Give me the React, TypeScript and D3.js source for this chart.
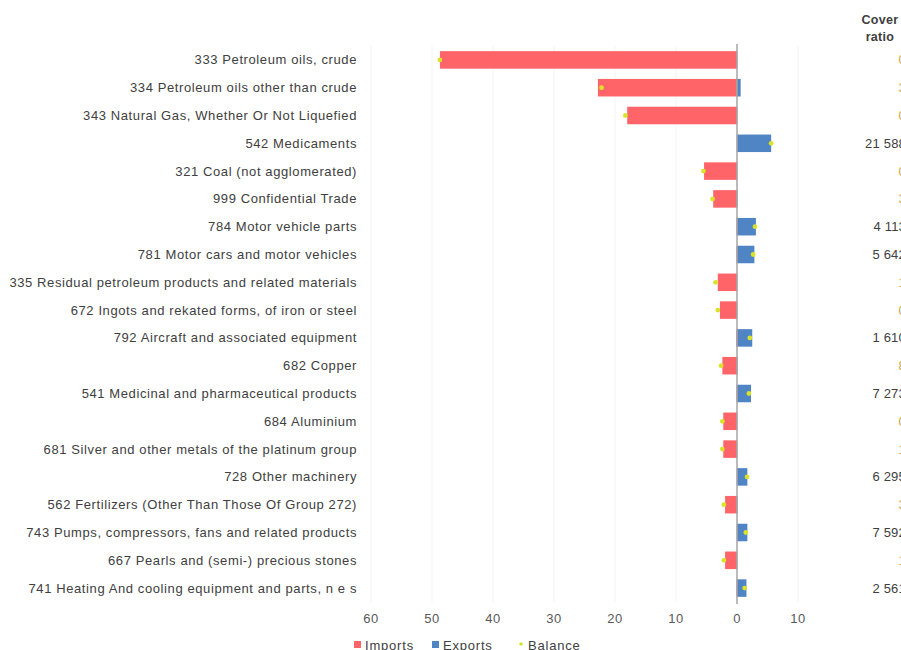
import React from 'react';
import * as d3 from 'd3';

const categories = [
  '333 Petroleum oils, crude',
  '334 Petroleum oils other than crude',
  '343 Natural Gas, Whether Or Not Liquefied',
  '542 Medicaments',
  '321 Coal (not agglomerated)',
  '999 Confidential Trade',
  '784 Motor vehicle parts',
  '781 Motor cars and motor vehicles',
  '335 Residual petroleum products and related materials',
  '672 Ingots and rekated forms, of iron or steel',
  '792 Aircraft and associated equipment',
  '682 Copper',
  '541 Medicinal and pharmaceutical products',
  '684 Aluminium',
  '681 Silver and other metals of the platinum group',
  '728 Other machinery',
  '562 Fertilizers (Other Than Those Of Group 272)',
  '743 Pumps, compressors, fans and related products',
  '667 Pearls and (semi-) precious stones',
  '741 Heating And cooling equipment and parts, n e s',
];

// billions
const imports = [48.7, 22.8, 18.0, 0.05, 5.4, 3.9, 0.1, 0.1, 3.15, 2.8, 0.15, 2.4, 0.1, 2.25, 2.25, 0.05, 1.95, 0.05, 1.95, 0.1];
const exports = [0.05, 0.6, 0.05, 5.6, 0.05, 0.1, 3.1, 2.85, 0.05, 0.05, 2.5, 0.1, 2.3, 0.05, 0.05, 1.7, 0.1, 1.7, 0.05, 1.55];
const balance = [-48.7, -22.2, -18.3, 5.6, -5.5, -4.0, 2.95, 2.65, -3.5, -3.15, 2.1, -2.6, 1.95, -2.4, -2.4, 1.65, -2.15, 1.45, -2.15, 1.25];
const coverRatio = [0, 3, 0, 21588, 0, 3, 4113, 5642, 1, 0, 1610, 8, 7273, 0, 1, 6295, 3, 7592, 1, 2561];

const xTicks = [-60, -50, -40, -30, -20, -10, 0, 10];

const RED = '#ff6469';
const BLUE = '#4f85c5';
const DOT = '#d9e32a';
const TEXT = '#404040';

export default function App() {
  const width = 901;
  const height = 650;
  const font = 'Arial, "Liberation Sans", sans-serif';

  const x = d3.scaleLinear().domain([-60, 10]).range([371, 798]);
  const y = d3.scaleBand<string>()
    .domain(categories)
    .range([46, 602])
    .paddingInner(0.37)
    .paddingOuter(0.185);
  const bw = y.bandwidth();
  const fmt = (v: number) => d3.format(',')(v).replace(/,/g, ' ');

  return (
    <svg width={width} height={height}
      style={{ position: 'absolute', left: 0, top: 0, background: '#fff' }}
      fontFamily={font}>
      {/* faint gridlines */}
      {xTicks.map(t => (
        <line key={'g' + t} x1={x(t)} x2={x(t)} y1={46} y2={602} stroke="#f3f3f3" />
      ))}

      {/* imports, negative side */}
      {categories.map((c, i) => (
        <rect key={'i' + i} x={x(-imports[i])} y={y(c)} width={x(0) - x(-imports[i])} height={bw} fill={RED} />
      ))}
      {/* exports, positive side */}
      {categories.map((c, i) => (
        <rect key={'e' + i} x={x(0)} y={y(c)} width={x(exports[i]) - x(0)} height={bw} fill={BLUE} />
      ))}

      {/* zero line */}
      <line x1={x(0)} x2={x(0)} y1={44} y2={604} stroke="#a6a6a6" strokeWidth={1.5} />

      {/* balance markers */}
      {categories.map((c, i) => (
        <circle key={'b' + i} cx={x(balance[i])} cy={(y(c) as number) + bw / 2} r={2.4} fill={DOT} />
      ))}

      {/* category labels */}
      {categories.map((c, i) => (
        <text key={'l' + i} x={357} y={(y(c) as number) + bw / 2} dy="0.35em" textAnchor="end"
          fontSize={13} letterSpacing={0.6} fill={TEXT}>{c}</text>
      ))}

      {/* x tick labels */}
      {xTicks.map(t => (
        <text key={'t' + t} x={x(t)} y={623} textAnchor="middle" fontSize={13} letterSpacing={0.4} fill="#595959">
          {Math.abs(t)}
        </text>
      ))}

      {/* cover ratio column */}
      <text x={880} y={24} textAnchor="middle" fontSize={12.5} fontWeight="bold" letterSpacing={0.3} fill={TEXT}>Cover</text>
      <text x={880} y={41} textAnchor="middle" fontSize={12.5} fontWeight="bold" letterSpacing={0.3} fill={TEXT}>ratio</text>
      {categories.map((c, i) => (
        <text key={'r' + i} x={906} y={(y(c) as number) + bw / 2} dy="0.35em" textAnchor="end"
          fontSize={13} letterSpacing={0.2} fill={coverRatio[i] < 100 ? '#c9a443' : TEXT}>{fmt(coverRatio[i])}</text>
      ))}

      {/* legend */}
      <rect x={354} y={641} width={7} height={7} fill={RED} />
      <text x={365} y={650} fontSize={13} letterSpacing={0.8} fill={TEXT}>Imports</text>
      <rect x={432} y={641} width={7} height={7} fill={BLUE} />
      <text x={443} y={650} fontSize={13} letterSpacing={0.8} fill={TEXT}>Exports</text>
      <circle cx={521} cy={644} r={1.8} fill={DOT} />
      <text x={528} y={650} fontSize={13} letterSpacing={0.8} fill={TEXT}>Balance</text>
    </svg>
  );
}
